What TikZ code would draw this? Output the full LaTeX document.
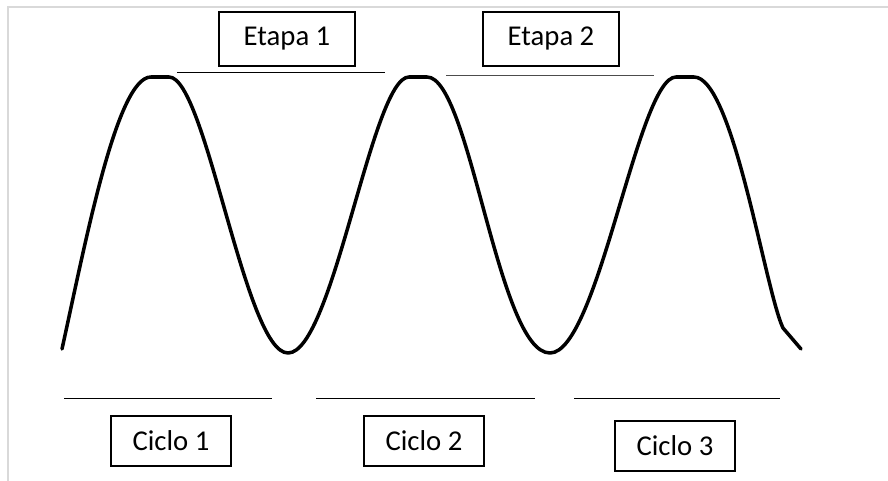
\documentclass[tikz,border=0pt]{standalone}
\usepackage{fontspec}
\setmainfont{Carlito}
\usetikzlibrary{positioning}
\tikzset{
	tag/.style={draw,line width=1.3pt,fill=white,font=\fontsize{24.5}{28}\selectfont,inner sep=0pt},
	etapa/.style={tag,minimum width=4.08cm,minimum height=1.62cm},
	ciclo/.style={tag,minimum width=3.6cm,minimum height=1.5cm},
	rule/.style={line width=0.8pt},
	wave/.style={line width=3pt,line cap=round,line join=round}
}
\begin{document}
\begin{tikzpicture}[x=0.03cm,y=-0.03cm]
		\useasboundingbox (0,0) rectangle (888,481);
		% light frame, top and left only
		\draw[black!15,line width=1.3pt] (888,7)--(8,7)--(8,481);
		% the three cycles
		\draw[wave] (62,349) .. controls (86,240) and (117,77) .. (151,77) -- (169,77)
			.. controls (206,77) and (245,353) .. (288,353)
			.. controls (333,353) and (372,77) .. (409,77) -- (427,77)
			.. controls (470,77) and (498,353) .. (550,353)
			.. controls (598,353) and (638,77) .. (676,77) -- (694,77)
			.. controls (733,77) and (765,290) .. (783,328) -- (801,349);
		% stages
		\node[etapa] (e1) at (287,39) {Etapa 1};
		\node[etapa] (e2) at (551,39) {Etapa 2};
		\draw[rule] (177,72)--(385,72);
		\draw[rule,black!70] (446,75)--(654,75);
		% cycles
		\node[ciclo] (c1) at (171,441) {Ciclo 1};
		\node[ciclo] (c2) at (424,441) {Ciclo 2};
		\node[ciclo] (c3) at (675,446) {Ciclo 3};
		\foreach \a/\b in {64/272,316/535,574/780}\draw[rule](\a,398)--(\b,398);
	\end{tikzpicture}
\end{document}
